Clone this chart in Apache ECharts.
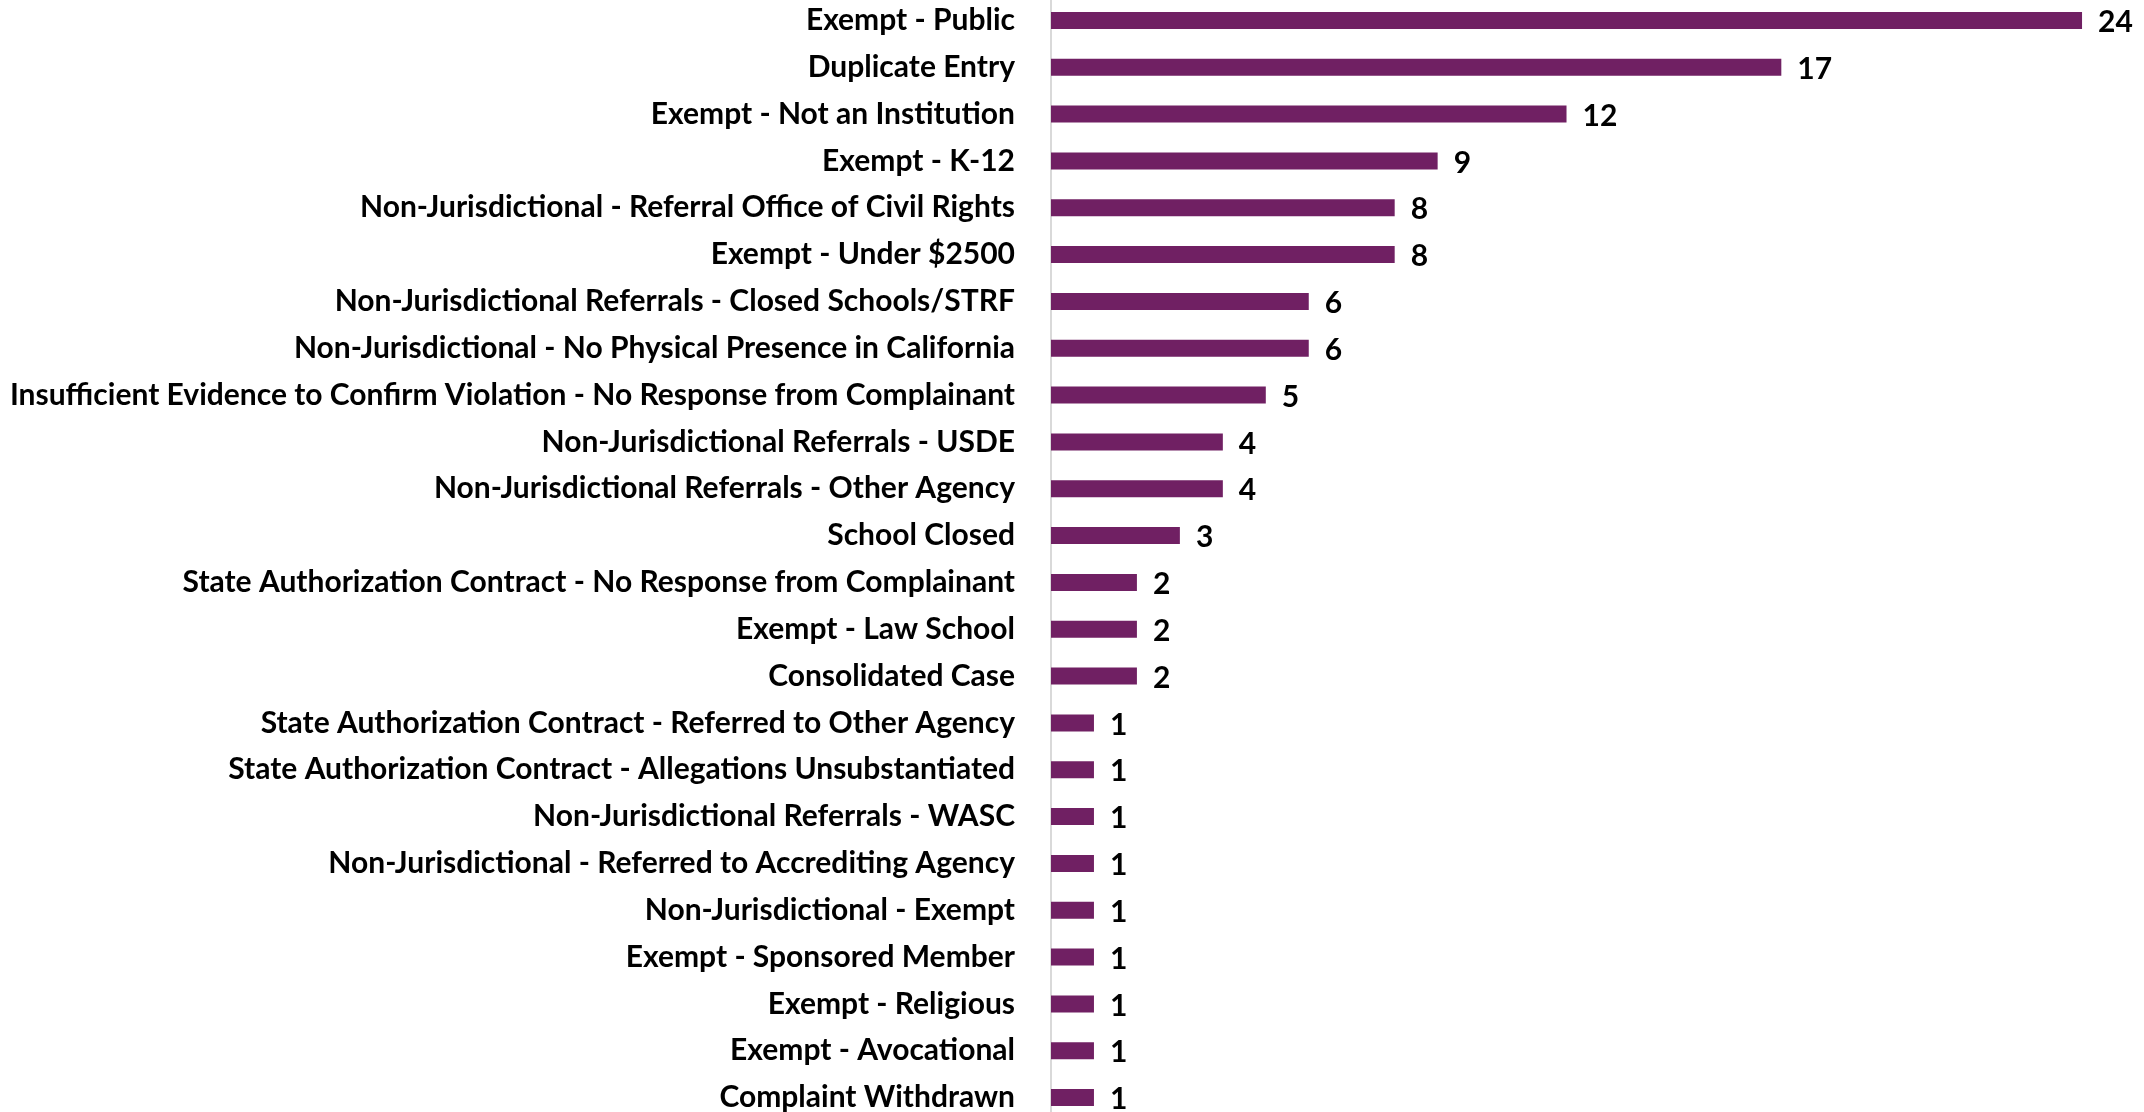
<!DOCTYPE html>
<html>
<head>
<meta charset="utf-8">
<script src="https://cdn.jsdelivr.net/npm/echarts@6/dist/echarts.min.js"></script>
<style>
  html, body { margin: 0; padding: 0; background: #fff; overflow: hidden; }
  #chart { width: 2144px; height: 1124px; margin-top: -3px; }
</style>
</head>
<body>
<div id="chart"></div>
<script>
// categories, top to bottom
const categories = [
  "Exempt - Public",
  "Duplicate Entry",
  "Exempt - Not an Institution",
  "Exempt - K-12",
  "Non-Jurisdictional - Referral Office of Civil Rights",
  "Exempt - Under $2500",
  "Non-Jurisdictional Referrals - Closed Schools/STRF",
  "Non-Jurisdictional - No Physical Presence in California",
  "Insufficient Evidence to Confirm Violation - No Response from Complainant",
  "Non-Jurisdictional Referrals - USDE",
  "Non-Jurisdictional Referrals - Other Agency",
  "School Closed",
  "State Authorization Contract - No Response from Complainant",
  "Exempt - Law School",
  "Consolidated Case",
  "State Authorization Contract - Referred to Other Agency",
  "State Authorization Contract - Allegations Unsubstantiated",
  "Non-Jurisdictional Referrals - WASC",
  "Non-Jurisdictional - Referred to Accrediting Agency",
  "Non-Jurisdictional - Exempt",
  "Exempt - Sponsored Member",
  "Exempt - Religious",
  "Exempt - Avocational",
  "Complaint Withdrawn"
];
const counts = [24, 17, 12, 9, 8, 8, 6, 6, 5, 4, 4, 3, 2, 2, 2, 1, 1, 1, 1, 1, 1, 1, 1, 1];

const chart = echarts.init(document.getElementById("chart"));
const font = "Lato, 'Open Sans', sans-serif";

chart.setOption({
  animation: false,
  grid: {
    left: 1051,
    right: 19,
    top: 0,
    bottom: 0,
    containLabel: false
  },
  xAxis: {
    type: "value",
    min: 0,
    max: 25,
    show: false
  },
  yAxis: {
    type: "category",
    inverse: true,
    data: categories,
    axisLine: { show: true, lineStyle: { color: "#d9d9d9", width: 2 } },
    axisTick: { show: false },
    axisLabel: {
      margin: 36,
      color: "#000",
      fontFamily: font,
      fontWeight: "bold",
      fontSize: 30
    }
  },
  series: [
    {
      type: "bar",
      data: counts,
      barWidth: 17,
      itemStyle: { color: "#702063" },
      label: {
        show: true,
        position: "right",
        distance: 16,
        offset: [0, 2],
        color: "#000",
        fontFamily: font,
        fontWeight: "bold",
        fontSize: 30
      }
    }
  ]
});
</script>
</body>
</html>
